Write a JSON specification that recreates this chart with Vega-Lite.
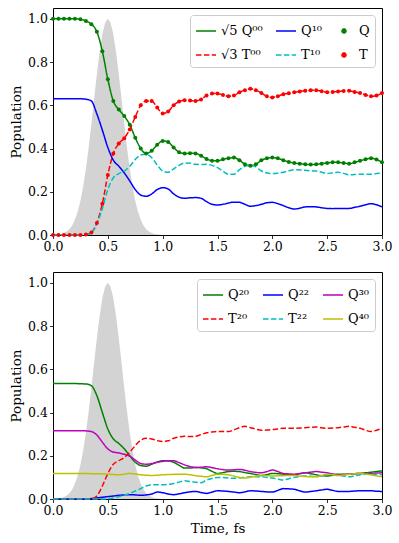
{
  "$schema": "https://vega.github.io/schema/vega-lite/v6.json",
  "padding": {"left": 9, "top": 7, "right": 17, "bottom": 5},
  "spacing": 17,
  "config": {
    "font": "DejaVu Serif",
    "scale": {"continuousPadding": 0},
    "view": {"stroke": "black", "strokeWidth": 1},
    "axis": {
      "domain": false, "grid": false, "tickColor": "black", "tickSize": 3.5, "tickWidth": 0.8, "labelFlush": false,
      "labelFont": "DejaVu Serif", "labelFontSize": 12.5, "labelColor": "black", "labelPadding": 2,
      "titleFont": "DejaVu Serif", "titleFontSize": 13.5, "titleFontWeight": "normal", "titleColor": "black"
    },
    "legend": {
      "orient": "top-right", "offset": 7, "columns": 3, "fillColor": "white", "strokeColor": "#cccccc",
      "cornerRadius": 3, "padding": 5, "labelFont": "DejaVu Serif", "labelFontSize": 13, "labelColor": "black",
      "symbolStrokeWidth": 1.5, "symbolSize": 400, "columnPadding": 10, "rowPadding": 6, "title": null
    }
  },
  "datasets": {
    "pulse": [
      {"t": 0.0, "p": 0.001}, {"t": 0.025, "p": 0.001}, {"t": 0.05, "p": 0.003}, {"t": 0.075, "p": 0.005},
      {"t": 0.1, "p": 0.009}, {"t": 0.125, "p": 0.016}, {"t": 0.15, "p": 0.027}, {"t": 0.175, "p": 0.044},
      {"t": 0.2, "p": 0.07}, {"t": 0.225, "p": 0.107}, {"t": 0.25, "p": 0.157}, {"t": 0.275, "p": 0.224},
      {"t": 0.3, "p": 0.306}, {"t": 0.325, "p": 0.404}, {"t": 0.35, "p": 0.514}, {"t": 0.375, "p": 0.63},
      {"t": 0.4, "p": 0.744}, {"t": 0.425, "p": 0.847}, {"t": 0.45, "p": 0.929}, {"t": 0.475, "p": 0.982},
      {"t": 0.5, "p": 1.0}, {"t": 0.525, "p": 0.982}, {"t": 0.55, "p": 0.929}, {"t": 0.575, "p": 0.847},
      {"t": 0.6, "p": 0.744}, {"t": 0.625, "p": 0.63}, {"t": 0.65, "p": 0.514}, {"t": 0.675, "p": 0.404},
      {"t": 0.7, "p": 0.306}, {"t": 0.725, "p": 0.224}, {"t": 0.75, "p": 0.157}, {"t": 0.775, "p": 0.107},
      {"t": 0.8, "p": 0.07}, {"t": 0.825, "p": 0.044}, {"t": 0.85, "p": 0.027}, {"t": 0.875, "p": 0.016},
      {"t": 0.9, "p": 0.009}, {"t": 0.925, "p": 0.005}, {"t": 0.95, "p": 0.003}, {"t": 0.975, "p": 0.001},
      {"t": 1.0, "p": 0.0}, {"t": 3.0, "p": 0.0}
    ],
    "top": [
      {"t": 0.0, "q00": 1.0, "t00": 0, "q10": 0.63, "t10": 0, "Q": 1.0, "T": 0},
      {"t": 0.05, "q00": 1.0, "t00": 0, "q10": 0.63, "t10": 0, "Q": 1.0, "T": 0},
      {"t": 0.1, "q00": 1.0, "t00": 0, "q10": 0.63, "t10": 0, "Q": 1.0, "T": 0},
      {"t": 0.15, "q00": 1.0, "t00": 0, "q10": 0.63, "t10": 0, "Q": 1.0, "T": 0},
      {"t": 0.2, "q00": 1.0, "t00": 0, "q10": 0.63, "t10": 0, "Q": 1.0, "T": 0},
      {"t": 0.25, "q00": 0.998, "t00": 0, "q10": 0.63, "t10": 0, "Q": 0.998, "T": 0},
      {"t": 0.3, "q00": 0.99, "t00": 0.002, "q10": 0.628, "t10": 0.001, "Q": 0.99, "T": 0.002},
      {"t": 0.35, "q00": 0.975, "t00": 0.012, "q10": 0.62, "t10": 0.01, "Q": 0.975, "T": 0.012},
      {"t": 0.4, "q00": 0.94, "t00": 0.056, "q10": 0.56, "t10": 0.052, "Q": 0.94, "T": 0.056},
      {"t": 0.45, "q00": 0.85, "t00": 0.145, "q10": 0.485, "t10": 0.123, "Q": 0.85, "T": 0.145},
      {"t": 0.5, "q00": 0.72, "t00": 0.278, "q10": 0.405, "t10": 0.21, "Q": 0.72, "T": 0.278},
      {"t": 0.55, "q00": 0.62, "t00": 0.377, "q10": 0.346, "t10": 0.265, "Q": 0.62, "T": 0.377},
      {"t": 0.6, "q00": 0.58, "t00": 0.423, "q10": 0.318, "t10": 0.284, "Q": 0.58, "T": 0.423},
      {"t": 0.65, "q00": 0.55, "t00": 0.448, "q10": 0.287, "t10": 0.296, "Q": 0.55, "T": 0.448},
      {"t": 0.7, "q00": 0.51, "t00": 0.488, "q10": 0.25, "t10": 0.318, "Q": 0.51, "T": 0.488},
      {"t": 0.75, "q00": 0.45, "t00": 0.546, "q10": 0.21, "t10": 0.349, "Q": 0.45, "T": 0.546},
      {"t": 0.8, "q00": 0.4, "t00": 0.6, "q10": 0.185, "t10": 0.37, "Q": 0.4, "T": 0.6},
      {"t": 0.85, "q00": 0.377, "t00": 0.62, "q10": 0.179, "t10": 0.373, "Q": 0.377, "T": 0.62},
      {"t": 0.9, "q00": 0.39, "t00": 0.62, "q10": 0.19, "t10": 0.358, "Q": 0.39, "T": 0.62},
      {"t": 0.95, "q00": 0.417, "t00": 0.59, "q10": 0.21, "t10": 0.324, "Q": 0.417, "T": 0.59},
      {"t": 1.0, "q00": 0.435, "t00": 0.562, "q10": 0.219, "t10": 0.296, "Q": 0.435, "T": 0.562},
      {"t": 1.05, "q00": 0.43, "t00": 0.571, "q10": 0.213, "t10": 0.29, "Q": 0.43, "T": 0.571},
      {"t": 1.1, "q00": 0.405, "t00": 0.6, "q10": 0.19, "t10": 0.306, "Q": 0.405, "T": 0.6},
      {"t": 1.15, "q00": 0.383, "t00": 0.617, "q10": 0.175, "t10": 0.322, "Q": 0.383, "T": 0.617},
      {"t": 1.2, "q00": 0.377, "t00": 0.623, "q10": 0.17, "t10": 0.333, "Q": 0.377, "T": 0.623},
      {"t": 1.25, "q00": 0.378, "t00": 0.622, "q10": 0.172, "t10": 0.332, "Q": 0.378, "T": 0.622},
      {"t": 1.3, "q00": 0.377, "t00": 0.62, "q10": 0.173, "t10": 0.327, "Q": 0.377, "T": 0.62},
      {"t": 1.35, "q00": 0.367, "t00": 0.627, "q10": 0.17, "t10": 0.326, "Q": 0.367, "T": 0.627},
      {"t": 1.4, "q00": 0.352, "t00": 0.645, "q10": 0.154, "t10": 0.327, "Q": 0.352, "T": 0.645},
      {"t": 1.45, "q00": 0.344, "t00": 0.654, "q10": 0.142, "t10": 0.322, "Q": 0.344, "T": 0.654},
      {"t": 1.5, "q00": 0.343, "t00": 0.654, "q10": 0.139, "t10": 0.312, "Q": 0.343, "T": 0.654},
      {"t": 1.55, "q00": 0.35, "t00": 0.648, "q10": 0.142, "t10": 0.295, "Q": 0.35, "T": 0.648},
      {"t": 1.6, "q00": 0.355, "t00": 0.642, "q10": 0.148, "t10": 0.281, "Q": 0.355, "T": 0.642},
      {"t": 1.65, "q00": 0.358, "t00": 0.645, "q10": 0.152, "t10": 0.281, "Q": 0.358, "T": 0.645},
      {"t": 1.7, "q00": 0.346, "t00": 0.66, "q10": 0.151, "t10": 0.302, "Q": 0.346, "T": 0.66},
      {"t": 1.75, "q00": 0.327, "t00": 0.67, "q10": 0.142, "t10": 0.318, "Q": 0.327, "T": 0.67},
      {"t": 1.8, "q00": 0.32, "t00": 0.676, "q10": 0.133, "t10": 0.324, "Q": 0.32, "T": 0.676},
      {"t": 1.85, "q00": 0.327, "t00": 0.67, "q10": 0.136, "t10": 0.315, "Q": 0.327, "T": 0.67},
      {"t": 1.9, "q00": 0.346, "t00": 0.657, "q10": 0.142, "t10": 0.296, "Q": 0.346, "T": 0.657},
      {"t": 1.95, "q00": 0.355, "t00": 0.642, "q10": 0.149, "t10": 0.287, "Q": 0.355, "T": 0.642},
      {"t": 2.0, "q00": 0.358, "t00": 0.636, "q10": 0.151, "t10": 0.284, "Q": 0.358, "T": 0.636},
      {"t": 2.05, "q00": 0.355, "t00": 0.642, "q10": 0.145, "t10": 0.286, "Q": 0.355, "T": 0.642},
      {"t": 2.1, "q00": 0.346, "t00": 0.651, "q10": 0.136, "t10": 0.29, "Q": 0.346, "T": 0.651},
      {"t": 2.15, "q00": 0.338, "t00": 0.656, "q10": 0.126, "t10": 0.297, "Q": 0.338, "T": 0.656},
      {"t": 2.2, "q00": 0.333, "t00": 0.66, "q10": 0.12, "t10": 0.302, "Q": 0.333, "T": 0.66},
      {"t": 2.25, "q00": 0.33, "t00": 0.664, "q10": 0.124, "t10": 0.301, "Q": 0.33, "T": 0.664},
      {"t": 2.3, "q00": 0.327, "t00": 0.667, "q10": 0.13, "t10": 0.299, "Q": 0.327, "T": 0.667},
      {"t": 2.35, "q00": 0.326, "t00": 0.669, "q10": 0.131, "t10": 0.297, "Q": 0.326, "T": 0.669},
      {"t": 2.4, "q00": 0.327, "t00": 0.67, "q10": 0.13, "t10": 0.296, "Q": 0.327, "T": 0.67},
      {"t": 2.45, "q00": 0.33, "t00": 0.665, "q10": 0.126, "t10": 0.29, "Q": 0.33, "T": 0.665},
      {"t": 2.5, "q00": 0.333, "t00": 0.66, "q10": 0.123, "t10": 0.284, "Q": 0.333, "T": 0.66},
      {"t": 2.55, "q00": 0.336, "t00": 0.662, "q10": 0.122, "t10": 0.288, "Q": 0.336, "T": 0.662},
      {"t": 2.6, "q00": 0.336, "t00": 0.664, "q10": 0.123, "t10": 0.29, "Q": 0.336, "T": 0.664},
      {"t": 2.65, "q00": 0.333, "t00": 0.666, "q10": 0.123, "t10": 0.285, "Q": 0.333, "T": 0.666},
      {"t": 2.7, "q00": 0.33, "t00": 0.667, "q10": 0.123, "t10": 0.278, "Q": 0.33, "T": 0.667},
      {"t": 2.75, "q00": 0.336, "t00": 0.662, "q10": 0.128, "t10": 0.28, "Q": 0.336, "T": 0.662},
      {"t": 2.8, "q00": 0.343, "t00": 0.657, "q10": 0.133, "t10": 0.281, "Q": 0.343, "T": 0.657},
      {"t": 2.85, "q00": 0.35, "t00": 0.648, "q10": 0.14, "t10": 0.281, "Q": 0.35, "T": 0.648},
      {"t": 2.9, "q00": 0.355, "t00": 0.642, "q10": 0.145, "t10": 0.281, "Q": 0.355, "T": 0.642},
      {"t": 2.95, "q00": 0.349, "t00": 0.645, "q10": 0.14, "t10": 0.284, "Q": 0.349, "T": 0.645},
      {"t": 3.0, "q00": 0.336, "t00": 0.657, "q10": 0.13, "t10": 0.287, "Q": 0.336, "T": 0.657}
    ],
    "bottom": [
      {"t": 0.0, "q20": 0.534, "t20": 0, "q22": 0, "t22": 0, "q30": 0.316, "q40": 0.118},
      {"t": 0.05, "q20": 0.534, "t20": 0, "q22": 0, "t22": 0, "q30": 0.316, "q40": 0.118},
      {"t": 0.1, "q20": 0.534, "t20": 0, "q22": 0, "t22": 0, "q30": 0.316, "q40": 0.118},
      {"t": 0.15, "q20": 0.534, "t20": 0, "q22": 0, "t22": 0, "q30": 0.316, "q40": 0.118},
      {"t": 0.2, "q20": 0.534, "t20": 0, "q22": 0, "t22": 0, "q30": 0.316, "q40": 0.118},
      {"t": 0.25, "q20": 0.533, "t20": 0, "q22": 0, "t22": 0, "q30": 0.316, "q40": 0.118},
      {"t": 0.3, "q20": 0.532, "t20": 0, "q22": 0, "t22": 0, "q30": 0.315, "q40": 0.118},
      {"t": 0.35, "q20": 0.524, "t20": 0.001, "q22": 0.002, "t22": 0, "q30": 0.312, "q40": 0.117},
      {"t": 0.4, "q20": 0.478, "t20": 0.014, "q22": 0.005, "t22": 0, "q30": 0.296, "q40": 0.117},
      {"t": 0.45, "q20": 0.4, "t20": 0.06, "q22": 0.008, "t22": 0, "q30": 0.263, "q40": 0.116},
      {"t": 0.5, "q20": 0.324, "t20": 0.118, "q22": 0.011, "t22": 0.001, "q30": 0.232, "q40": 0.115},
      {"t": 0.55, "q20": 0.278, "t20": 0.161, "q22": 0.014, "t22": 0.005, "q30": 0.217, "q40": 0.113},
      {"t": 0.6, "q20": 0.257, "t20": 0.177, "q22": 0.017, "t22": 0.011, "q30": 0.213, "q40": 0.112},
      {"t": 0.65, "q20": 0.232, "t20": 0.192, "q22": 0.019, "t22": 0.018, "q30": 0.207, "q40": 0.115},
      {"t": 0.7, "q20": 0.2, "t20": 0.217, "q22": 0.02, "t22": 0.026, "q30": 0.198, "q40": 0.118},
      {"t": 0.75, "q20": 0.17, "t20": 0.247, "q22": 0.019, "t22": 0.037, "q30": 0.18, "q40": 0.116},
      {"t": 0.8, "q20": 0.155, "t20": 0.272, "q22": 0.017, "t22": 0.048, "q30": 0.164, "q40": 0.112},
      {"t": 0.85, "q20": 0.152, "t20": 0.281, "q22": 0.019, "t22": 0.06, "q30": 0.161, "q40": 0.11},
      {"t": 0.9, "q20": 0.161, "t20": 0.278, "q22": 0.023, "t22": 0.066, "q30": 0.164, "q40": 0.109},
      {"t": 0.95, "q20": 0.171, "t20": 0.27, "q22": 0.032, "t22": 0.066, "q30": 0.17, "q40": 0.11},
      {"t": 1.0, "q20": 0.177, "t20": 0.266, "q22": 0.029, "t22": 0.066, "q30": 0.174, "q40": 0.112},
      {"t": 1.05, "q20": 0.176, "t20": 0.269, "q22": 0.023, "t22": 0.068, "q30": 0.177, "q40": 0.113},
      {"t": 1.1, "q20": 0.17, "t20": 0.281, "q22": 0.02, "t22": 0.072, "q30": 0.177, "q40": 0.114},
      {"t": 1.15, "q20": 0.156, "t20": 0.287, "q22": 0.024, "t22": 0.078, "q30": 0.168, "q40": 0.115},
      {"t": 1.2, "q20": 0.143, "t20": 0.29, "q22": 0.029, "t22": 0.084, "q30": 0.158, "q40": 0.115},
      {"t": 1.25, "q20": 0.143, "t20": 0.289, "q22": 0.033, "t22": 0.081, "q30": 0.15, "q40": 0.112},
      {"t": 1.3, "q20": 0.146, "t20": 0.29, "q22": 0.035, "t22": 0.078, "q30": 0.146, "q40": 0.108},
      {"t": 1.35, "q20": 0.144, "t20": 0.298, "q22": 0.03, "t22": 0.075, "q30": 0.147, "q40": 0.105},
      {"t": 1.4, "q20": 0.14, "t20": 0.306, "q22": 0.026, "t22": 0.088, "q30": 0.149, "q40": 0.103},
      {"t": 1.45, "q20": 0.128, "t20": 0.31, "q22": 0.032, "t22": 0.095, "q30": 0.145, "q40": 0.109},
      {"t": 1.5, "q20": 0.118, "t20": 0.312, "q22": 0.038, "t22": 0.1, "q30": 0.14, "q40": 0.115},
      {"t": 1.55, "q20": 0.122, "t20": 0.312, "q22": 0.037, "t22": 0.099, "q30": 0.136, "q40": 0.114},
      {"t": 1.6, "q20": 0.127, "t20": 0.312, "q22": 0.035, "t22": 0.097, "q30": 0.134, "q40": 0.112},
      {"t": 1.65, "q20": 0.128, "t20": 0.32, "q22": 0.032, "t22": 0.096, "q30": 0.135, "q40": 0.106},
      {"t": 1.7, "q20": 0.127, "t20": 0.33, "q22": 0.029, "t22": 0.097, "q30": 0.137, "q40": 0.1},
      {"t": 1.75, "q20": 0.122, "t20": 0.336, "q22": 0.033, "t22": 0.1, "q30": 0.133, "q40": 0.097},
      {"t": 1.8, "q20": 0.118, "t20": 0.33, "q22": 0.038, "t22": 0.103, "q30": 0.127, "q40": 0.101},
      {"t": 1.85, "q20": 0.113, "t20": 0.323, "q22": 0.037, "t22": 0.103, "q30": 0.123, "q40": 0.105},
      {"t": 1.9, "q20": 0.109, "t20": 0.318, "q22": 0.035, "t22": 0.103, "q30": 0.121, "q40": 0.109},
      {"t": 1.95, "q20": 0.113, "t20": 0.319, "q22": 0.033, "t22": 0.1, "q30": 0.127, "q40": 0.108},
      {"t": 2.0, "q20": 0.118, "t20": 0.321, "q22": 0.032, "t22": 0.097, "q30": 0.134, "q40": 0.106},
      {"t": 2.05, "q20": 0.117, "t20": 0.324, "q22": 0.04, "t22": 0.092, "q30": 0.127, "q40": 0.107},
      {"t": 2.1, "q20": 0.115, "t20": 0.327, "q22": 0.048, "t22": 0.088, "q30": 0.118, "q40": 0.108},
      {"t": 2.15, "q20": 0.113, "t20": 0.327, "q22": 0.047, "t22": 0.094, "q30": 0.116, "q40": 0.109},
      {"t": 2.2, "q20": 0.112, "t20": 0.327, "q22": 0.045, "t22": 0.1, "q30": 0.115, "q40": 0.109},
      {"t": 2.25, "q20": 0.117, "t20": 0.328, "q22": 0.038, "t22": 0.104, "q30": 0.118, "q40": 0.106},
      {"t": 2.3, "q20": 0.121, "t20": 0.33, "q22": 0.032, "t22": 0.106, "q30": 0.121, "q40": 0.104},
      {"t": 2.35, "q20": 0.117, "t20": 0.332, "q22": 0.035, "t22": 0.105, "q30": 0.124, "q40": 0.103},
      {"t": 2.4, "q20": 0.112, "t20": 0.333, "q22": 0.038, "t22": 0.103, "q30": 0.127, "q40": 0.103},
      {"t": 2.45, "q20": 0.108, "t20": 0.33, "q22": 0.042, "t22": 0.108, "q30": 0.124, "q40": 0.109},
      {"t": 2.5, "q20": 0.106, "t20": 0.327, "q22": 0.045, "t22": 0.112, "q30": 0.121, "q40": 0.115},
      {"t": 2.55, "q20": 0.11, "t20": 0.328, "q22": 0.04, "t22": 0.111, "q30": 0.116, "q40": 0.112},
      {"t": 2.6, "q20": 0.115, "t20": 0.33, "q22": 0.035, "t22": 0.109, "q30": 0.112, "q40": 0.109},
      {"t": 2.65, "q20": 0.115, "t20": 0.333, "q22": 0.035, "t22": 0.106, "q30": 0.113, "q40": 0.111},
      {"t": 2.7, "q20": 0.115, "t20": 0.336, "q22": 0.035, "t22": 0.103, "q30": 0.115, "q40": 0.114},
      {"t": 2.75, "q20": 0.117, "t20": 0.332, "q22": 0.037, "t22": 0.107, "q30": 0.117, "q40": 0.117},
      {"t": 2.8, "q20": 0.118, "t20": 0.327, "q22": 0.038, "t22": 0.112, "q30": 0.118, "q40": 0.118},
      {"t": 2.85, "q20": 0.121, "t20": 0.318, "q22": 0.038, "t22": 0.114, "q30": 0.118, "q40": 0.115},
      {"t": 2.9, "q20": 0.124, "t20": 0.312, "q22": 0.038, "t22": 0.115, "q30": 0.118, "q40": 0.112},
      {"t": 2.95, "q20": 0.127, "t20": 0.318, "q22": 0.036, "t22": 0.114, "q30": 0.12, "q40": 0.107},
      {"t": 3.0, "q20": 0.13, "t20": 0.327, "q22": 0.035, "t22": 0.112, "q30": 0.121, "q40": 0.103}
    ]
  },
  "resolve": {
    "scale": {"color": "independent", "strokeDash": "independent", "shape": "independent"},
    "legend": {"color": "independent", "strokeDash": "independent", "shape": "independent"}
  },
  "vconcat": [
    {
      "width": 329, "height": 227,
      "layer": [
        {
          "data": {"name": "pulse"},
          "mark": {"type": "area", "color": "#d3d3d3", "opacity": 1},
          "encoding": {
            "x": {"field": "t", "type": "quantitative", "scale": {"domain": [0, 3], "nice": false, "padding": 0}, "axis": {"values": [0, 0.5, 1, 1.5, 2, 2.5, 3], "format": ".1f", "title": null}},
            "y": {"field": "p", "type": "quantitative", "scale": {"domain": [0, 1.05], "nice": false, "padding": 0}, "axis": {"values": [0, 0.2, 0.4, 0.6, 0.8, 1.0], "format": ".1f", "title": "Population"}}
          }
        },
        {
          "mark": {"type": "rule", "color": "#999999", "strokeWidth": 2},
          "encoding": {"y": {"datum": 0}}
        },
        {
          "data": {"name": "top"},
          "transform": [{"fold": ["q00", "t00", "q10", "t10"], "as": ["key", "value"]}],
          "mark": {"type": "line", "strokeWidth": 1.5, "interpolate": "monotone"},
          "encoding": {
            "x": {"field": "t", "type": "quantitative"},
            "y": {"field": "value", "type": "quantitative"},
            "color": {"field": "key", "type": "nominal",
              "scale": {"domain": ["q00", "t00", "q10", "t10", "Q", "T"], "range": ["#008000", "#ff0000", "#0000ff", "#00bfbf", "#008000", "#ff0000"]},
              "legend": {"labelExpr": "{'q00': '√5 Q⁰⁰', 'q10': 'Q¹⁰', 'Q': 'Q', 't00': '√3 T⁰⁰', 't10': 'T¹⁰', 'T': 'T'}[datum.value]",
                "encode": {"symbols": {"update": {"size": {"signal": "datum.value === 'Q' || datum.value === 'T' ? 16 : 400"}}}}}},
            "strokeDash": {"field": "key", "type": "nominal",
              "scale": {"domain": ["q00", "t00", "q10", "t10", "Q", "T"], "range": [[1, 0], [5.5, 2.4], [1, 0], [5.5, 2.4], [1, 0], [1, 0]]},
              "legend": {"labelExpr": "{'q00': '√5 Q⁰⁰', 'q10': 'Q¹⁰', 'Q': 'Q', 't00': '√3 T⁰⁰', 't10': 'T¹⁰', 'T': 'T'}[datum.value]"}}
          }
        },
        {
          "data": {"name": "top"},
          "transform": [{"fold": ["Q", "T"], "as": ["key", "value"]}],
          "mark": {"type": "point", "filled": true, "size": 16, "opacity": 1},
          "encoding": {
            "x": {"field": "t", "type": "quantitative"},
            "y": {"field": "value", "type": "quantitative"},
            "color": {"field": "key", "type": "nominal"},
            "shape": {"field": "key", "type": "nominal",
              "scale": {"domain": ["q00", "t00", "q10", "t10", "Q", "T"], "range": ["stroke", "stroke", "stroke", "stroke", "circle", "circle"]},
              "legend": {"labelExpr": "{'q00': '√5 Q⁰⁰', 'q10': 'Q¹⁰', 'Q': 'Q', 't00': '√3 T⁰⁰', 't10': 'T¹⁰', 'T': 'T'}[datum.value]"}}
          }
        }
      ]
    },
    {
      "width": 329, "height": 227,
      "layer": [
        {
          "data": {"name": "pulse"},
          "mark": {"type": "area", "color": "#d3d3d3", "opacity": 1},
          "encoding": {
            "x": {"field": "t", "type": "quantitative", "scale": {"domain": [0, 3], "nice": false, "padding": 0}, "axis": {"values": [0, 0.5, 1, 1.5, 2, 2.5, 3], "format": ".1f", "title": "Time, fs"}},
            "y": {"field": "p", "type": "quantitative", "scale": {"domain": [0, 1.05], "nice": false, "padding": 0}, "axis": {"values": [0, 0.2, 0.4, 0.6, 0.8, 1.0], "format": ".1f", "title": "Population"}}
          }
        },
        {
          "mark": {"type": "rule", "color": "#999999", "strokeWidth": 2},
          "encoding": {"y": {"datum": 0}}
        },
        {
          "data": {"name": "bottom"},
          "transform": [{"fold": ["q20", "q22", "q30", "t20", "t22", "q40"], "as": ["key", "value"]}],
          "mark": {"type": "line", "strokeWidth": 1.5, "interpolate": "monotone"},
          "encoding": {
            "x": {"field": "t", "type": "quantitative"},
            "y": {"field": "value", "type": "quantitative"},
            "color": {"field": "key", "type": "nominal",
              "scale": {"domain": ["q20", "t20", "q22", "t22", "q30", "q40"], "range": ["#008000", "#ff0000", "#0000ff", "#00bfbf", "#bf00bf", "#bfbf00"]},
              "legend": {"labelExpr": "{'q20': 'Q²⁰', 'q22': 'Q²²', 'q30': 'Q³⁰', 't20': 'T²⁰', 't22': 'T²²', 'q40': 'Q⁴⁰'}[datum.value]"}},
            "strokeDash": {"field": "key", "type": "nominal",
              "scale": {"domain": ["q20", "t20", "q22", "t22", "q30", "q40"], "range": [[1, 0], [5.5, 2.4], [1, 0], [5.5, 2.4], [1, 0], [1, 0]]},
              "legend": {"labelExpr": "{'q20': 'Q²⁰', 'q22': 'Q²²', 'q30': 'Q³⁰', 't20': 'T²⁰', 't22': 'T²²', 'q40': 'Q⁴⁰'}[datum.value]"}}
          }
        }
      ]
    }
  ]
}
